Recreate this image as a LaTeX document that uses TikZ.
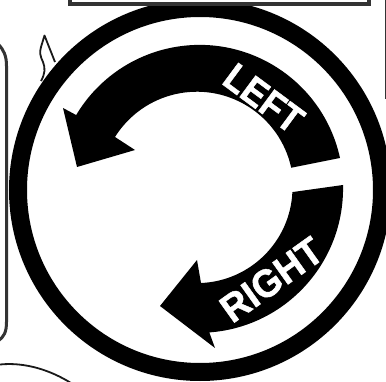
\documentclass[tikz,border=0pt]{standalone}
\usepackage{fontspec}
\setmainfont{Liberation Sans}[BoldFeatures={FakeBold=1.2}]
\tikzset{
  lbl/.style={text=white,inner sep=0pt,font=\fontsize{39}{39}\bfseries\selectfont},
  outline/.style={draw=black!90,line width=1.8pt,fill=none,line join=round},
  framebar/.style={draw=black!80,line width=4.5pt,fill=none}
}
\begin{document}
\begin{tikzpicture}[x=1pt,y=-1pt]
\useasboundingbox[fill=white] (0,0) rectangle (386,382);
\coordinate (c) at (200,190);
% neighbouring panel outlines
\draw[framebar,line width=3pt] (-2,44) .. controls (4,50) and (6.5,56) .. (6.5,66) -- (6.5,322) .. controls (6.5,332) and (4,337) .. (-2,341);
\draw[framebar,line width=1.2pt] (385.5,-1) -- (385.5,99);
\draw[outline] (0,364.5) .. controls (25,362) and (50,370) .. (71,383);
\draw[outline] (41,81) .. controls (45,74) and (45.5,68) .. (43,62) .. controls (40,56) and (39.5,52) .. (41,47) -- (44.5,35.5) -- (55,62);
% ring
\draw[black,line width=18pt] (c) circle[radius=182];
% top panel
\fill[white] (68,-2) rectangle (371,6.5);
\draw[framebar] (70,-3) -- (70,4) -- (369,4) -- (369,-3);
% left arrow
\fill[black] (340,158) arc[start angle=-12.3,end angle=-149.2,radius=143.7]
  -- (63,108) -- (77,167) -- (135,150) -- (115,137)
  arc[start angle=-147.9,end angle=-12.3,radius=96.6] -- cycle;
% right arrow
\fill[black] (343,185) arc[start angle=-1.4,end angle=85.8,radius=144.3]
  -- (215,348) -- (160,306) -- (197,260) -- (201,283)
  arc[start angle=87.6,end angle=2.7,radius=95.5] -- cycle;
\node[lbl,rotate=-36.5] (left) at (263.8,98.3) {\scalebox{.9}[1]{LEFT}};
\node[lbl,rotate=35.5] (right) at (271.5,279.7) {\scalebox{.95}[1]{RIGHT}};
\end{tikzpicture}
\end{document}
